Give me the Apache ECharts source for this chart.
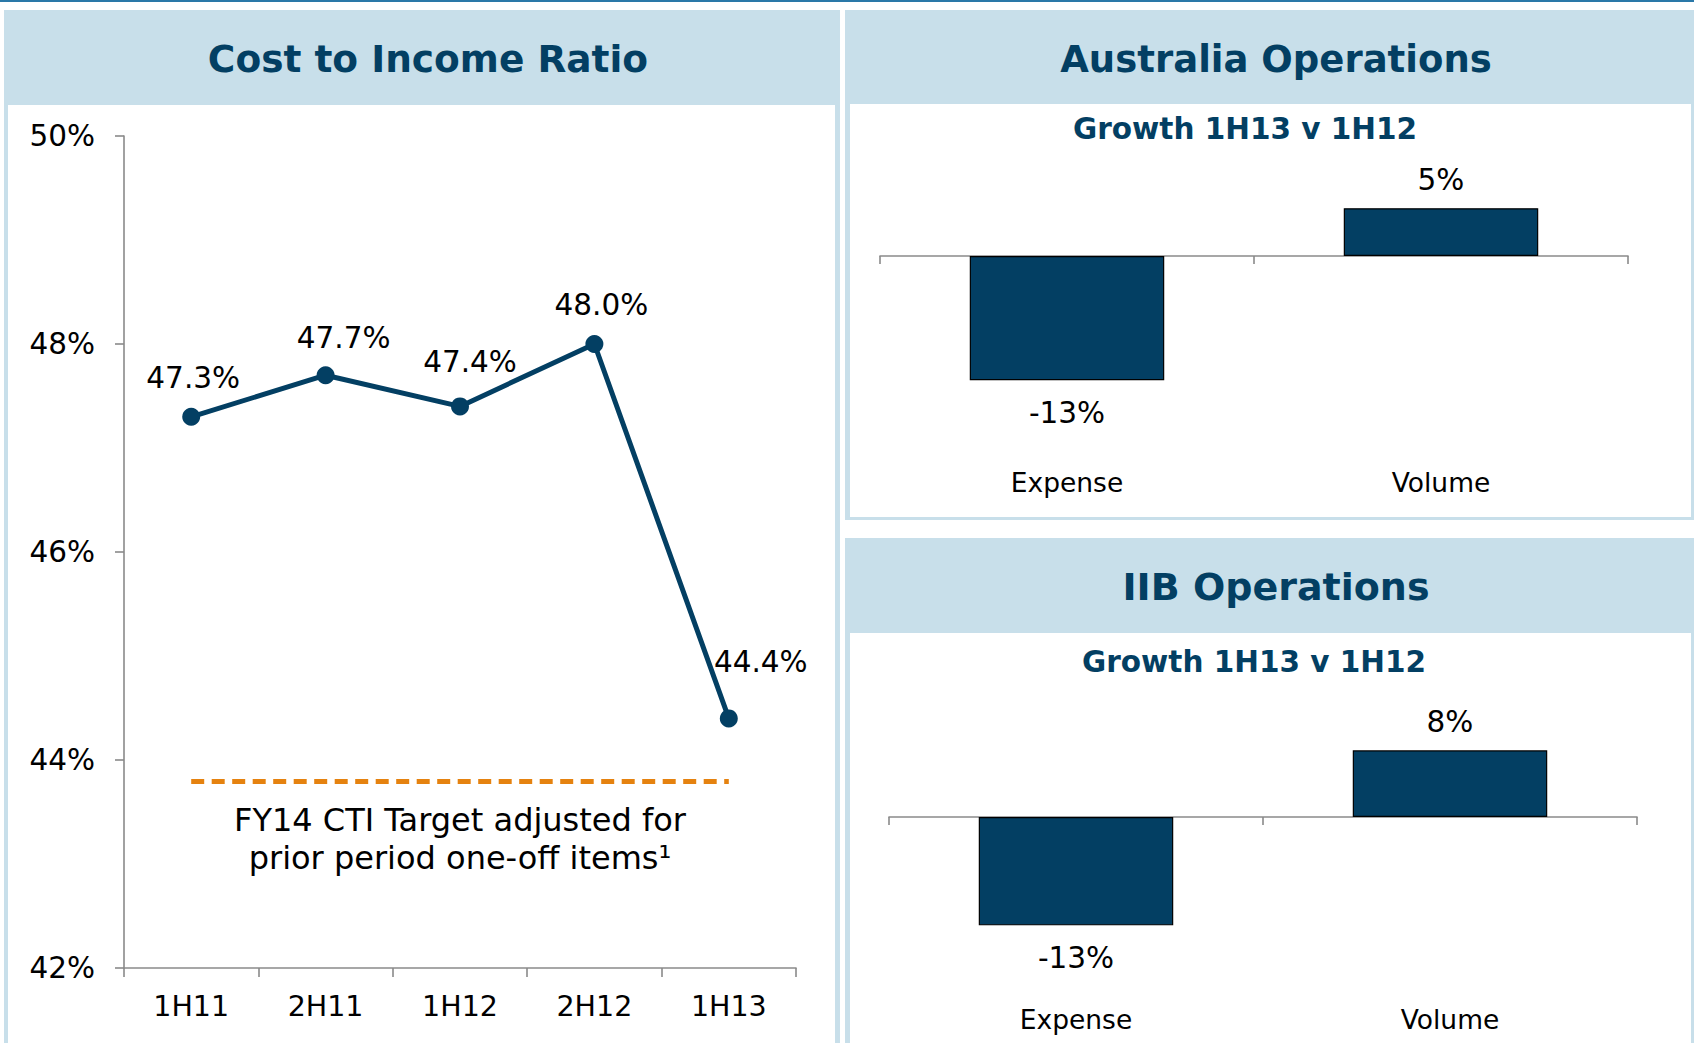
<!DOCTYPE html>
<html>
<head>
<meta charset="utf-8">
<script src="https://cdn.jsdelivr.net/npm/echarts@6/dist/echarts.min.js"></script>
<style>
  html, body { margin: 0; padding: 0; background: #ffffff; width: 1694px; height: 1043px; overflow: hidden; }
  .abs { position: absolute; }
  #chart { position: absolute; left: 0; top: 0; width: 1694px; height: 1043px; }
</style>
</head>
<body>
<div class="abs" style="left:0;top:0;width:1694px;height:2px;background:#2a78a8;"></div>
<div class="abs" style="left:4px;top:10px;width:836px;height:1050px;background:#c8dfea;"></div>
<div class="abs" style="left:8px;top:105px;width:827px;height:950px;background:#ffffff;"></div>
<div class="abs" style="left:845px;top:10px;width:849px;height:510px;background:#c8dfea;"></div>
<div class="abs" style="left:850px;top:104px;width:841px;height:413px;background:#ffffff;"></div>
<div class="abs" style="left:845px;top:538px;width:849px;height:520px;background:#c8dfea;"></div>
<div class="abs" style="left:850px;top:633px;width:841px;height:420px;background:#ffffff;"></div>
<div id="chart"></div>
<script>
// ---- data ----
const periods = ['1H11', '2H11', '1H12', '2H12', '1H13'];
const ctiValues = [47.3, 47.7, 47.4, 48.0, 44.4];
const ctiTarget = 43.8;
const ctiTargetText = 'FY14 CTI Target adjusted for\nprior period one-off items\u00B9';
const yTicksMin = 42, yTicksMax = 50, yTicksStep = 2;

const growthCats = ['Expense', 'Volume'];
const ausGrowth = [-13, 5];
const iibGrowth = [-13, 8];

const titles = ['Cost to Income Ratio', 'Australia Operations', 'IIB Operations'];
const subTitle = 'Growth 1H13 v 1H12';

// ---- styles ----
const FONT = "'DejaVu Sans', Verdana, sans-serif";
const NAVY = '#033f63';
const AXIS_GRAY = '#8a8a8a';
const ORANGE = '#e5820f';
const NUM_SIZE = 29.5;
const ctiLabelNudge = [[2, 0], [18, 2], [10, -5], [7, 0], [32, -17]];

const chart = echarts.init(document.getElementById('chart'), null, { renderer: 'svg' });

function titleText(text, x, y, size) {
  return {
    type: 'text',
    silent: true,
    style: {
      text: text, x: x, y: y,
      align: 'center', verticalAlign: 'middle',
      font: 'bold ' + size + 'px ' + FONT,
      fill: NAVY
    }
  };
}

function barAxisPair(gridIndex) {
  return [
    {
      type: 'category', gridIndex: gridIndex, data: growthCats, position: 'bottom',
      axisLine: { onZero: true, lineStyle: { color: AXIS_GRAY, width: 1.6 } },
      axisTick: { show: true, length: 8, lineStyle: { color: AXIS_GRAY, width: 1.6 } },
      axisLabel: { show: false }, splitLine: { show: false }
    },
    {
      type: 'category', gridIndex: gridIndex, data: growthCats, position: 'bottom',
      axisLine: { show: false, onZero: false }, axisTick: { show: false },
      axisLabel: { show: true, margin: 22, fontSize: 26.5, fontFamily: FONT, color: '#000' },
      splitLine: { show: false }
    }
  ];
}

function barSeries(values, xIdx, yIdx) {
  return {
    type: 'bar', xAxisIndex: xIdx, yAxisIndex: yIdx, barWidth: '52%',
    silent: true,
    itemStyle: { color: NAVY, borderColor: '#000', borderWidth: 1.2 },
    data: values.map(v => ({
      value: v,
      label: { show: true, position: 'outside', distance: v < 0 ? 18 : 13 }
    })),
    label: { show: true, formatter: p => p.value + '%', fontSize: NUM_SIZE, fontFamily: FONT, color: '#000' }
  };
}

const option = {
  animation: false,
  backgroundColor: 'transparent',
  textStyle: { fontFamily: FONT },
  graphic: [
    titleText(titles[0], 428, 59, 37.5),
    titleText(titles[1], 1276, 59, 37),
    titleText(subTitle, 1245, 129, 29.5),
    titleText(titles[2], 1276, 587, 38),
    titleText(subTitle, 1254, 662, 29.5)
  ],
  grid: [
    { left: 124, top: 136, width: 672, height: 832 },
    { left: 880, top: 160.5, width: 748, height: 286.5 },
    { left: 889, top: 733.7, width: 748, height: 250 }
  ],
  xAxis: [
    {
      type: 'category', gridIndex: 0, data: periods, boundaryGap: true,
      axisLine: { lineStyle: { color: AXIS_GRAY, width: 1.6 } },
      axisTick: { show: true, length: 9, lineStyle: { color: AXIS_GRAY, width: 1.6 } },
      axisLabel: { margin: 24, fontSize: 28.5, fontFamily: FONT, color: '#000' },
      splitLine: { show: false }
    },
    ...barAxisPair(1),
    ...barAxisPair(2)
  ],
  yAxis: [
    {
      type: 'value', gridIndex: 0, min: yTicksMin, max: yTicksMax, interval: yTicksStep,
      axisLine: { show: true, lineStyle: { color: AXIS_GRAY, width: 1.6 } },
      axisTick: { show: true, length: 9, lineStyle: { color: AXIS_GRAY, width: 1.6 } },
      axisLabel: { margin: 29, fontSize: NUM_SIZE, fontFamily: FONT, color: '#000', formatter: '{value}%' },
      splitLine: { show: false }
    },
    { type: 'value', gridIndex: 1, min: -20, max: 10, show: false, splitLine: { show: false } },
    { type: 'value', gridIndex: 2, min: -20, max: 10, show: false, splitLine: { show: false } }
  ],
  series: [
    {
      type: 'line', xAxisIndex: 0, yAxisIndex: 0, silent: true,
      symbol: 'circle', symbolSize: 18,
      lineStyle: { color: NAVY, width: 5 },
      itemStyle: { color: NAVY },
      label: {
        show: true, position: 'top', distance: 15,
        fontSize: NUM_SIZE, fontFamily: FONT, color: '#000',
        formatter: p => p.value.toFixed(1) + '%'
      },
      data: ctiValues.map((v, i) => ({ value: v, label: { offset: ctiLabelNudge[i] } })),
      markLine: {
        silent: true,
        symbol: ['none', 'none'],
        lineStyle: { color: ORANGE, width: 5, type: [13, 7.5] },
        label: {
          show: true, position: 'insideMiddleBottom', distance: 20,
          formatter: ctiTargetText, fontSize: 32, lineHeight: 38,
          fontFamily: FONT, color: '#000', align: 'center'
        },
        data: [[
          { coord: [periods[0], ctiTarget] },
          { coord: [periods[periods.length - 1], ctiTarget] }
        ]]
      }
    },
    barSeries(ausGrowth, 1, 1),
    barSeries(iibGrowth, 3, 2)
  ]
};

chart.setOption(option);
</script>
</body>
</html>
